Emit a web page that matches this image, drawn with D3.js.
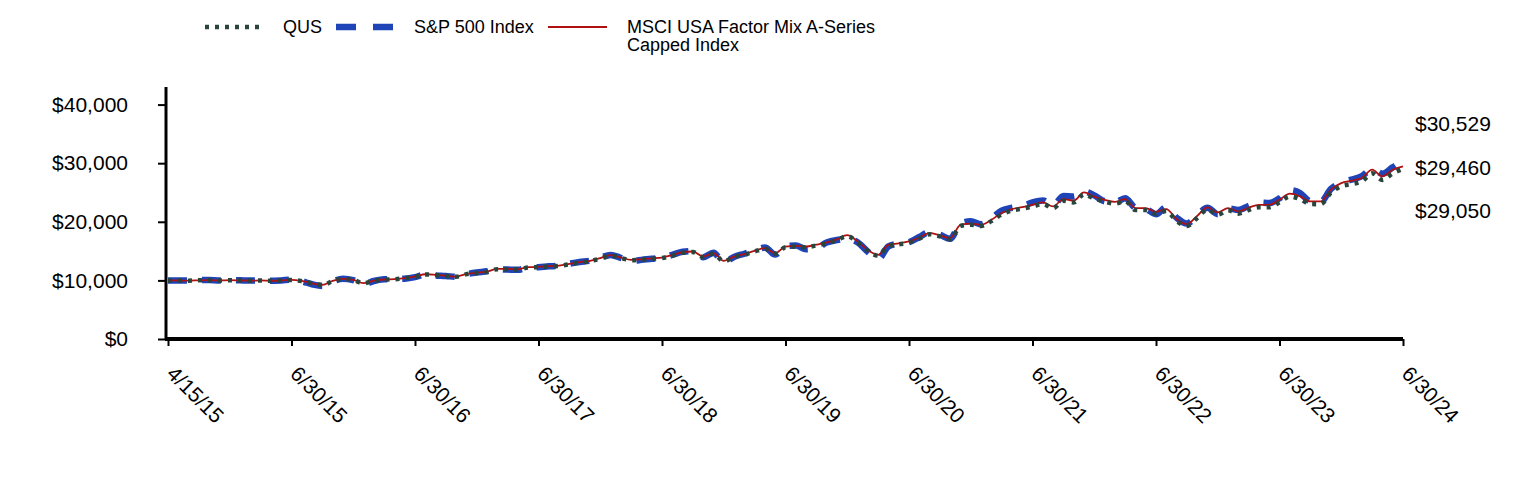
<!DOCTYPE html>
<html>
<head>
<meta charset="utf-8">
<script src="https://cdn.jsdelivr.net/npm/d3@7"></script>
<style>
  body { margin: 0; background: #fff; }
  svg { display: block; font-family: "Liberation Sans", Arial, sans-serif; }
</style>
</head>
<body>
<svg id="chart" width="1524" height="480"></svg>
<script>
// tick labels, one every 12 points
var tickLabels = ['4/15/15', '6/30/15', '6/30/16', '6/30/17', '6/30/18', '6/30/19',
    '6/30/20', '6/30/21', '6/30/22', '6/30/23', '6/30/24'];

var qus = [10000, 9980, 9950, 10010, 10040, 9980, 10020, 9990, 9950, 9980, 9930, 9970,
    10080, 9880, 9480, 9210, 9880, 10240, 10070, 9500, 9950, 10130, 10180, 10380,
    10620, 11020, 10920, 10770, 10620, 11070, 11270, 11460, 11920, 11910, 11860, 12200,
    12250, 12400, 12480, 12750, 13040, 13270, 13730, 14230, 13830, 13430, 13530, 13680,
    13820, 14220, 14710, 14840, 13990, 14560, 13250, 13980, 14400, 14940, 15390, 14550,
    15670, 15780, 15660, 15980, 16340, 16870, 17570, 16500, 15070, 14230, 15920, 16150,
    16480, 17130, 17870, 17520, 17030, 19280, 19480, 19270, 20110, 21250, 21910, 22230,
    22620, 23010, 22330, 23570, 23290, 24680, 23970, 23430, 23080, 23540, 22020, 22010,
    21380, 21830, 20140, 19290, 20660, 22090, 21230, 21960, 21390, 22010, 22490, 22480,
    23320, 24330, 23860, 23020, 23010, 24980, 26070, 26440, 26890, 28270, 27150, 28250,
    29050];

var sp500 = [10000, 9990, 9960, 10050, 10080, 10000, 10060, 10020, 9970, 10010, 9920, 9990,
    10120, 9850, 9350, 9060, 9800, 10300, 10050, 9350, 9900, 10180, 10250, 10300,
    10550, 11000, 10850, 10750, 10600, 11050, 11350, 11550, 11900, 11850, 11800, 12200,
    12250, 12400, 12500, 12850, 13150, 13350, 13850, 14350, 13850, 13350, 13500, 13700,
    13850, 14350, 14900, 15000, 13950, 14700, 13050, 14000, 14550, 15100, 15600, 14400,
    15900, 15950, 15300, 15500, 16450, 16900, 17100, 16500, 14900, 13620, 15800, 16300,
    16550, 17400, 18250, 17800, 17100, 19700, 20100, 19600, 20600, 21900, 22400, 22650,
    23300, 23650, 22800, 24400, 24300, 25200, 24500, 23500, 23300, 24000, 22400, 22200,
    21300, 22500, 20700, 19700, 21100, 22400, 21300, 22300, 22000, 22700, 23300, 23200,
    24000, 25400, 24900, 23500, 23400, 25600, 26700, 27200, 27800, 29000, 28200, 29300,
    30529];

var msci = [10000, 9980, 9950, 10020, 10050, 9990, 10030, 10000, 9960, 9990, 9940, 9980,
    10090, 9900, 9500, 9230, 9900, 10260, 10090, 9520, 9970, 10150, 10200, 10400,
    10650, 11050, 10950, 10800, 10650, 11100, 11300, 11500, 11960, 11950, 11900, 12250,
    12300, 12450, 12530, 12800, 13100, 13330, 13800, 14300, 13900, 13500, 13600, 13750,
    13900, 14300, 14800, 14930, 14070, 14650, 13330, 14070, 14500, 15040, 15500, 14650,
    15780, 15900, 15780, 16100, 16470, 17000, 17720, 16640, 15200, 14360, 16070, 16300,
    16640, 17300, 18050, 17700, 17210, 19490, 19700, 19490, 20340, 21500, 22170, 22500,
    22900, 23300, 22620, 23880, 23600, 25010, 24300, 23760, 23400, 23880, 22340, 22340,
    21700, 22170, 20460, 19600, 21000, 22460, 21590, 22340, 21760, 22400, 22900, 22900,
    23760, 24800, 24330, 23480, 23480, 25500, 26610, 27000, 27470, 28890, 27750, 28890,
    29460];

var endLabels = ['$30,529', '$29,460', '$29,050'];

var series = [
    { name: 'S&P 500 Index', values: sp500, color: '#1f44b8', width: 6.5, dash: '19,15' },
    { name: 'MSCI USA Factor Mix A-Series Capped Index', values: msci, color: '#b01010', width: 1.8, dash: null },
    { name: 'QUS', values: qus, color: '#2a463c', width: 4.5, dash: '4,6' }
];

var svg = d3.select('#chart');

var x = d3.scaleLinear().domain([0, qus.length - 1]).range([168, 1403]);
var y = d3.scaleLinear().domain([0, 43000]).range([339, 87]);

// lines
var line = d3.line()
    .x((d, i) => x(i))
    .y(d => y(d))
    .curve(d3.curveMonotoneX);

svg.append('g').selectAll('path')
    .data(series)
    .join('path')
    .attr('d', d => line(d.values))
    .attr('fill', 'none')
    .attr('stroke', d => d.color)
    .attr('stroke-width', d => d.width)
    .attr('stroke-dasharray', d => d.dash);

// y axis
var yAxis = svg.append('g')
    .attr('transform', 'translate(166,0)')
    .call(d3.axisLeft(y)
        .tickValues([0, 10000, 20000, 30000, 40000])
        .tickFormat(d => '$' + d3.format(',')(d))
        .tickSize(8)
        .tickPadding(30));
yAxis.select('.domain').attr('stroke-width', 3).attr('d', 'M0,' + y(0) + 'V' + y(43000));
yAxis.selectAll('.tick line').attr('stroke-width', 2);
yAxis.selectAll('.tick text').attr('font-size', 21).attr('fill', '#000');

// x axis
var xAxis = svg.append('g')
    .attr('transform', 'translate(0,339)')
    .call(d3.axisBottom(x)
        .tickValues(d3.range(0, qus.length, 12))
        .tickFormat((d, i) => tickLabels[i])
        .tickSize(7)
        .tickSizeOuter(0));
xAxis.select('.domain').attr('stroke-width', 4).attr('d', 'M165,0H' + x(qus.length - 1));
xAxis.selectAll('.tick line').attr('stroke-width', 2);
xAxis.selectAll('.tick text')
    .attr('font-size', 21)
    .attr('fill', '#000')
    .attr('text-anchor', 'start')
    .attr('dy', 0)
    .attr('y', 0)
    .attr('transform', 'translate(-3,36) rotate(45)');

// end value labels
svg.append('g').selectAll('text')
    .data(endLabels)
    .join('text')
    .attr('x', 1415)
    .attr('y', (d, i) => 124 + i * 43.5)
    .attr('dy', '0.35em')
    .attr('font-size', 21)
    .text(d => d);

// legend
var legend = svg.append('g').attr('class', 'legend');
legend.append('line')
    .attr('x1', 205).attr('x2', 263).attr('y1', 27).attr('y2', 27)
    .attr('stroke', series[2].color).attr('stroke-width', 4.5).attr('stroke-dasharray', '4,6');
legend.append('text').attr('x', 283).attr('y', 27).attr('dy', '0.35em').attr('font-size', 18).text('QUS');
legend.append('line')
    .attr('x1', 336).attr('x2', 395).attr('y1', 27).attr('y2', 27)
    .attr('stroke', series[0].color).attr('stroke-width', 6.5).attr('stroke-dasharray', '20,17');
legend.append('text').attr('x', 414).attr('y', 27).attr('dy', '0.35em').attr('font-size', 18).text('S&P 500 Index');
legend.append('line')
    .attr('x1', 548).attr('x2', 607).attr('y1', 27).attr('y2', 27)
    .attr('stroke', series[1].color).attr('stroke-width', 1.8);
legend.append('text').attr('x', 627).attr('y', 27).attr('dy', '0.35em').attr('font-size', 18).text('MSCI USA Factor Mix A-Series');
legend.append('text').attr('x', 627).attr('y', 45).attr('dy', '0.35em').attr('font-size', 18).text('Capped Index');
</script>
</body>
</html>
